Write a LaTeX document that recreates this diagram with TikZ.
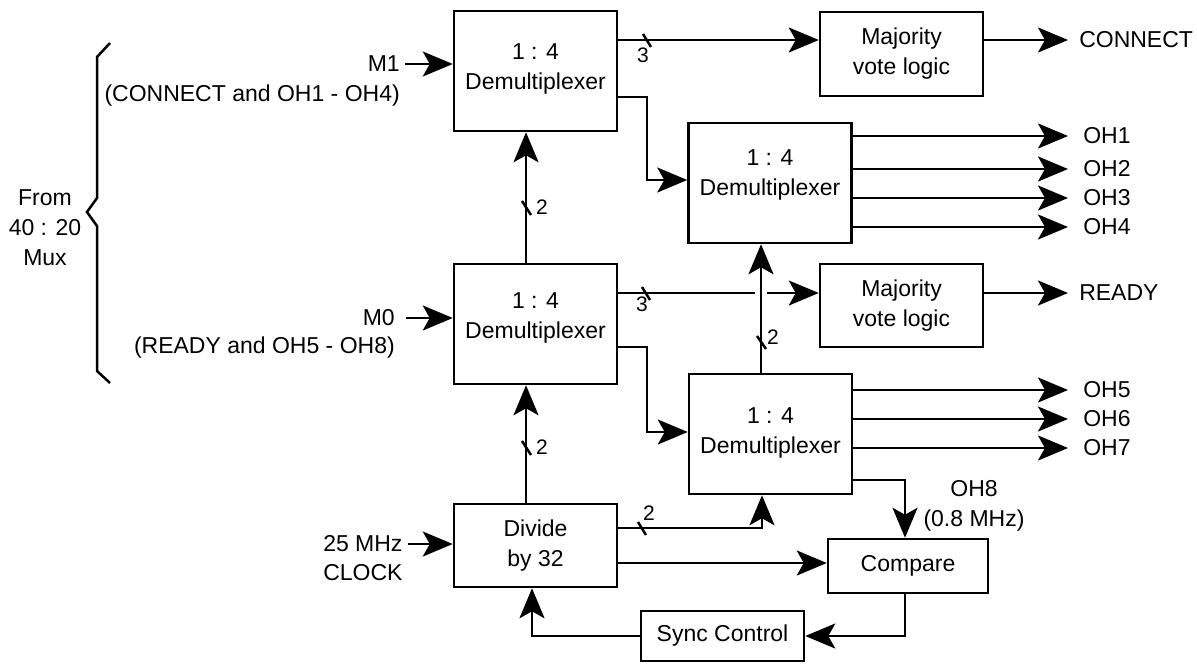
\documentclass[tikz,border=0pt]{standalone}
\usepackage{fontspec}
\setmainfont{Liberation Sans}
\usetikzlibrary{arrows.meta}
\begin{document}
\begin{tikzpicture}[x=0.5pt,y=-0.5pt,
  line width=1.25pt,
  arr/.style={-{Stealth[length=15pt,width=12.5pt,inset=3.5pt]}},
  blk/.style={draw, line width=1.25pt, inner sep=0pt, align=center,
    font=\fontsize{11.5}{15}\selectfont},
  demux/.style={blk, minimum width=81.5pt, minimum height=60pt},
  lbl/.style={inner sep=1pt, align=center, font=\fontsize{11.5}{15}\selectfont},
  bus/.style={inner sep=0pt, font=\fontsize{10.5}{12}\selectfont}]
\useasboundingbox (0,0) rectangle (1197,664);

% blocks
\node[demux, label={[lbl,yshift=1pt]center:1 : 4\\Demultiplexer}] (d1) at (535.5,71) {};
\node[demux, label={[lbl,yshift=4pt]center:1 : 4\\Demultiplexer}] (d2) at (770,183) {};
\node[demux, label={[lbl,yshift=3pt]center:1 : 4\\Demultiplexer}] (d3) at (535.5,324) {};
\node[demux, label={[lbl,yshift=0.5pt]center:1 : 4\\Demultiplexer}] (d4) at (770.5,434) {};
\node[blk, minimum width=81.5pt, minimum height=42pt] (maj1) at (901.5,54) {Majority\\vote logic};
\node[blk, minimum width=81.5pt, minimum height=41.5pt] (maj2) at (901.5,305.5) {Majority\\vote logic};
\node[blk, minimum width=81.5pt, minimum height=41.5pt] (div) at (535.5,545.5) {Divide\\by 32};
\node[blk, minimum width=80pt, minimum height=27pt] (cmp) at (908,566) {Compare};
\node[blk, minimum width=81.5pt, minimum height=25pt] (sync) at (722.5,636) {Sync Control};

% left labels
\node[lbl, anchor=east] (m1) at (403,64) {M1};
\node[lbl, anchor=east] (m1d) at (403,96) {(CONNECT and OH1 - OH4)};
\node[lbl, anchor=east] (m0) at (398,318) {M0};
\node[lbl, anchor=east] (m0d) at (398,348) {(READY and OH5 - OH8)};
\node[lbl, anchor=west] (clk) at (320,544) {25 MHz};
\node[lbl, anchor=west] (clk2) at (320,573) {CLOCK};
\node[lbl] (from) at (45,228) {From\\40 : 20\\Mux};
\node[lbl] (oh8) at (974,506) {OH8\\(0.8 MHz)};

% right labels
\node[lbl, anchor=west] (oC) at (1076,40) {CONNECT};
\node[lbl, anchor=west] (oh1) at (1080,136) {OH1};
\node[lbl, anchor=west] (oh2) at (1080,169) {OH2};
\node[lbl, anchor=west] (oh3) at (1080,198) {OH3};
\node[lbl, anchor=west] (oh4) at (1080,227) {OH4};
\node[lbl, anchor=west] (oR) at (1076,293) {READY};
\node[lbl, anchor=west] (oh5) at (1080,390) {OH5};
\node[lbl, anchor=west] (oh6) at (1080,419) {OH6};
\node[lbl, anchor=west] (oh7) at (1080,448) {OH7};

% helper coordinates
\coordinate (yC) at (0,40);
\coordinate (yA) at (0,97);
\coordinate (yB) at (0,180);
\coordinate (yR) at (0,293);
\coordinate (yD) at (0,347);
\coordinate (yE) at (0,432);
\coordinate (yF) at (0,480);
\coordinate (yG) at (0,528);
\coordinate (yH) at (0,563);
\coordinate (xJ) at (647,0);
\coordinate (xV) at (526,0);
\coordinate (xW) at (761,0);
\coordinate (xK) at (762,0);
\coordinate (xP) at (905,0);
\coordinate (xS) at (532,0);
\coordinate (xE) at (1068,0);

% inputs
\draw[arr] ([xshift=1pt]m1.east) -- (d1.west |- m1.east);
\draw[arr] ([xshift=4pt]m0.east) -- (d3.west |- m0.east);
\draw[arr] ([xshift=1pt]clk.east) -- (div.west |- clk.east);

% brace
\draw (110,43) -- (97,57) -- (97,198) -- (87,212) -- (97,226) -- (97,371) -- (110,383);

% top demux outputs
\draw[arr] (d1.east |- yC) -- (maj1.west |- yC);
\draw[arr] (maj1.east |- yC) -- (xE |- yC);
\draw[arr] (d1.east |- yA) -| (xJ |- yB) -- (d2.west |- yB);
\draw[arr] (d2.east |- oh1.west) -- (xE |- oh1.west);
\draw[arr] (d2.east |- oh2.west) -- (xE |- oh2.west);
\draw[arr] (d2.east |- oh3.west) -- (xE |- oh3.west);
\draw[arr] (d2.east |- oh4.west) -- (xE |- oh4.west);

% middle demux outputs
\draw[arr] (d3.east |- yR) -- (maj2.west |- yR);
\draw[arr] (maj2.east |- yR) -- (xE |- yR);
\draw[arr] (d3.east |- yD) -| (xJ |- yE) -- (d4.west |- yE);
\draw[arr] (d4.east |- oh5.west) -- (xE |- oh5.west);
\draw[arr] (d4.east |- oh6.west) -- (xE |- oh6.west);
\draw[arr] (d4.east |- oh7.west) -- (xE |- oh7.west);
\draw[arr] (d4.east |- yF) -| (xP |- cmp.north);

% vertical clocks
\draw[arr, preaction={draw=white, line width=6pt, -, shorten <=3pt, shorten >=3pt}]
  (xW |- d4.north) -- (xW |- d2.south);
\draw[arr] (xV |- d3.north) -- (xV |- d1.south);
\draw[arr] (xV |- div.north) -- (xV |- d3.south);

% divider outputs
\draw[arr] (div.east |- yG) -| (xK |- d4.south);
\draw[arr] (div.east |- yH) -- (cmp.west |- yH);
\draw[arr] (xP |- cmp.south) |- (sync.east);
\draw[arr] (sync.west) -| (xS |- div.south);

% bus slashes
\draw (643,34) -- (651,47);
\node[bus] (b1) at (643,55) {3};
\draw (642,287) -- (650,300);
\node[bus] (b2) at (642,304) {3};
\draw (522,201) -- (531,215);
\node[bus] (b3) at (542,207) {2};
\draw (522,441) -- (531,455);
\node[bus] (b4) at (542,447) {2};
\draw (757,336) -- (766,349);
\node[bus] (b5) at (773,337) {2};
\draw (638,522) -- (646,535);
\node[bus] (b6) at (649,513) {2};
\end{tikzpicture}
\end{document}
